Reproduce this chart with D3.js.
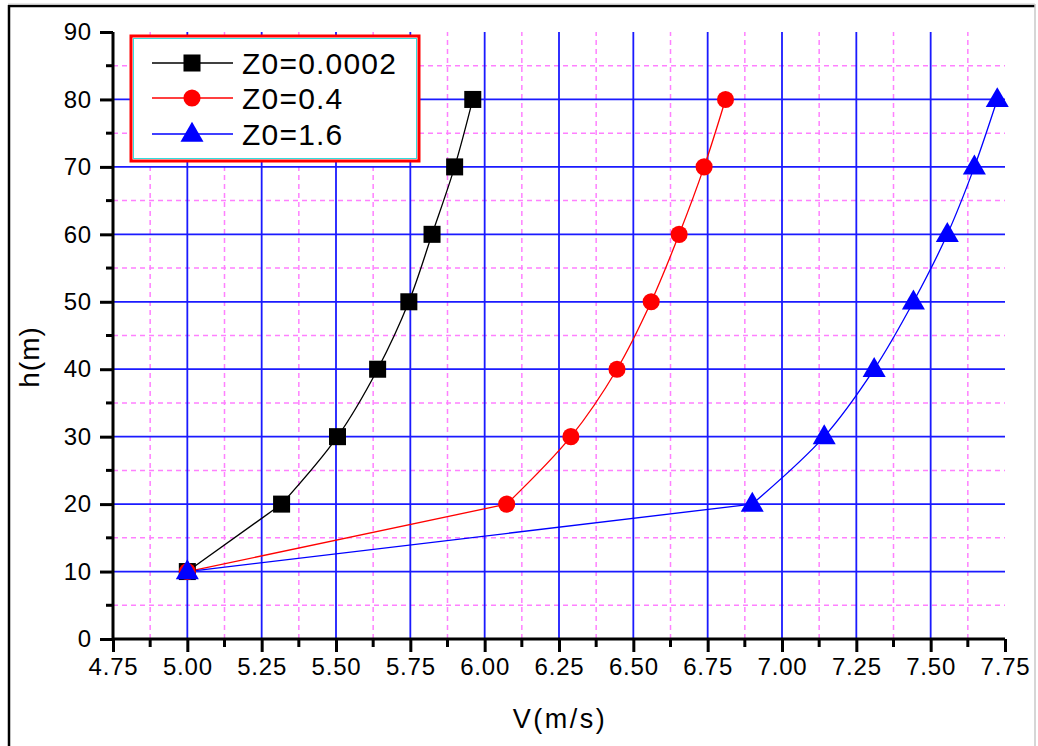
<!DOCTYPE html>
<html>
<head>
<meta charset="utf-8">
<script src="https://cdn.jsdelivr.net/npm/d3@7"></script>
<style>
  body { margin: 0; background: #fff; }
  text { font-family: "Liberation Sans", Arial, sans-serif; fill: #000; }
</style>
</head>
<body>
<svg id="chart" width="1038" height="746"></svg>
<script>
// values
var heights = [10, 20, 30, 40, 50, 60, 70, 80];
var vLow = [5.00, 5.317, 5.505, 5.64, 5.745, 5.823, 5.899, 5.96];   // Z0=0.0002
var vMid = [5.00, 6.074, 6.29, 6.445, 6.56, 6.654, 6.738, 6.81];    // Z0=0.4
var vHigh = [5.00, 6.90, 7.142, 7.31, 7.442, 7.556, 7.647, 7.724];  // Z0=1.6
var seriesNames = ["Z0=0.0002", "Z0=0.4", "Z0=1.6"];
var xTicks = [4.75, 5.00, 5.25, 5.50, 5.75, 6.00, 6.25, 6.50, 6.75, 7.00, 7.25, 7.50, 7.75];
var yTicks = [0, 10, 20, 30, 40, 50, 60, 70, 80, 90];

var svg = d3.select("#chart");

var x = d3.scaleLinear().domain([4.75, 7.75]).range([113, 1005]);
var y = d3.scaleLinear().domain([0, 90]).range([639, 32]);

// outer frame
svg.append("line").attr("x1", 9).attr("y1", 5).attr("x2", 9).attr("y2", 746)
    .attr("stroke", "#000").attr("stroke-width", 2.5);
svg.append("line").attr("x1", 8).attr("y1", 6).attr("x2", 1035).attr("y2", 6)
    .attr("stroke", "#000").attr("stroke-width", 2.5);
svg.append("line").attr("x1", 8).attr("y1", 4).attr("x2", 1035).attr("y2", 4)
    .attr("stroke", "#ccc").attr("stroke-width", 1);
svg.append("line").attr("x1", 1035).attr("y1", 4).attr("x2", 1035).attr("y2", 746)
    .attr("stroke", "#c8c8c8").attr("stroke-width", 1.5);

// minor grid (dashed magenta)
var xMinor = xTicks.slice(0, -1).map(function(d) { return d + 0.125; });
var yMinor = yTicks.slice(0, -1).map(function(d) { return d + 5; });
var grid = svg.append("g");
grid.selectAll(".xm").data(xMinor).enter().append("line")
    .attr("x1", function(d) { return x(d); }).attr("x2", function(d) { return x(d); })
    .attr("y1", y(0)).attr("y2", y(90))
    .attr("stroke", "#ff80ff").attr("stroke-width", 1.5).attr("stroke-dasharray", "5,4");
grid.selectAll(".ym").data(yMinor).enter().append("line")
    .attr("x1", x(4.75)).attr("x2", x(7.75))
    .attr("y1", function(d) { return y(d); }).attr("y2", function(d) { return y(d); })
    .attr("stroke", "#ff80ff").attr("stroke-width", 1.5).attr("stroke-dasharray", "5,4");

// major grid (solid blue)
grid.selectAll(".xM").data(xTicks.slice(1, -1)).enter().append("line")
    .attr("x1", function(d) { return x(d); }).attr("x2", function(d) { return x(d); })
    .attr("y1", y(0)).attr("y2", y(90))
    .attr("stroke", "#1a1aff").attr("stroke-width", 1.8);
grid.selectAll(".yM").data(yTicks.slice(1, -1)).enter().append("line")
    .attr("x1", x(4.75)).attr("x2", x(7.75))
    .attr("y1", function(d) { return y(d); }).attr("y2", function(d) { return y(d); })
    .attr("stroke", "#1a1aff").attr("stroke-width", 1.8);

// axes
var xAxis = d3.axisBottom(x).tickValues(xTicks).tickFormat(d3.format(".2f"))
    .tickSize(13).tickPadding(6);
var gx = svg.append("g").attr("transform", "translate(0," + y(0) + ")").call(xAxis);
var yAxis = d3.axisLeft(y).tickValues(yTicks).tickSize(13).tickPadding(8);
var gy = svg.append("g").attr("transform", "translate(" + x(4.75) + ",0)").call(yAxis);

[gx, gy].forEach(function(g) {
  g.select(".domain").attr("stroke", "#000").attr("stroke-width", 3)
      .attr("d", g === gx ? "M113,0H1005" : "M0,639V32");
  g.selectAll(".tick line").attr("stroke", "#000").attr("stroke-width", 3);
  g.selectAll(".tick text").style("font-size", "24px").style("letter-spacing", "0.8px")
      .style("font-family", "Liberation Sans, Arial, sans-serif").attr("fill", "#000");
});

// minor ticks
gx.selectAll(".mt").data(xMinor).enter().append("line")
    .attr("x1", function(d) { return x(d); }).attr("x2", function(d) { return x(d); })
    .attr("y1", 0).attr("y2", 8).attr("stroke", "#000").attr("stroke-width", 3);
gy.selectAll(".mt").data(yMinor).enter().append("line")
    .attr("y1", function(d) { return y(d); }).attr("y2", function(d) { return y(d); })
    .attr("x1", 0).attr("x2", -7).attr("stroke", "#000").attr("stroke-width", 3);

// axis titles
svg.append("text").attr("x", 560).attr("y", 728).attr("text-anchor", "middle")
    .style("font-size", "27px").style("letter-spacing", "2.5px").text("V(m/s)");
svg.append("text").attr("transform", "translate(39,357) rotate(-90)")
    .attr("text-anchor", "middle")
    .style("font-size", "28px").style("letter-spacing", "1px").text("h(m)");

// series
var series = [
  { name: seriesNames[0], v: vLow, color: "#000", shape: d3.symbolSquare, size: 290 },
  { name: seriesNames[1], v: vMid, color: "#ff0000", shape: d3.symbolCircle, size: 230 },
  { name: seriesNames[2], v: vHigh, color: "#0000ff", shape: d3.symbolTriangle, size: 230 }
];

var straight = d3.line()
    .x(function(d) { return x(d[0]); })
    .y(function(d) { return y(d[1]); });
var smooth = d3.line()
    .x(function(d) { return x(d[0]); })
    .y(function(d) { return y(d[1]); })
    .curve(d3.curveCatmullRom);

series.forEach(function(s) {
  var pts = s.v.map(function(v, i) { return [v, heights[i]]; });
  // first leg is straight, the rest is a smooth spline
  svg.append("path").datum(pts.slice(0, 2)).attr("d", straight)
      .attr("fill", "none").attr("stroke", s.color).attr("stroke-width", 1.3);
  svg.append("path").datum(pts.slice(1)).attr("d", smooth)
      .attr("fill", "none").attr("stroke", s.color).attr("stroke-width", 1.3);
});
series.forEach(function(s) {
  var pts = s.v.map(function(v, i) { return [v, heights[i]]; });
  svg.append("g").selectAll("path").data(pts).enter().append("path")
      .attr("transform", function(d) {
        return "translate(" + x(d[0]) + "," + (y(d[1]) + (s.shape === d3.symbolTriangle ? 1 : 0)) + ")";
      })
      .attr("d", d3.symbol().type(s.shape).size(s.size))
      .attr("fill", s.color);
});

// legend
var lg = svg.append("g");
lg.append("rect").attr("x", 131).attr("y", 36).attr("width", 288).attr("height", 125)
    .attr("fill", "#fff").attr("stroke", "#ff0000").attr("stroke-width", 3);
lg.append("rect").attr("x", 133.5).attr("y", 38.5).attr("width", 283).attr("height", 120)
    .attr("fill", "none").attr("stroke", "#33dddd").attr("stroke-width", 1);
var rows = [63, 98, 134];
series.forEach(function(s, i) {
  lg.append("line").attr("x1", 152).attr("x2", 233).attr("y1", rows[i]).attr("y2", rows[i])
      .attr("stroke", s.color).attr("stroke-width", 1.3);
  lg.append("path").attr("transform", "translate(192," + (rows[i] + (s.shape === d3.symbolTriangle ? 1 : 0)) + ")")
      .attr("d", d3.symbol().type(s.shape).size(s.size)).attr("fill", s.color);
  lg.append("text").attr("x", 242).attr("y", rows[i] + 11)
      .style("font-size", "30px").style("letter-spacing", "1.2px").text(s.name);
});
</script>
</body>
</html>
